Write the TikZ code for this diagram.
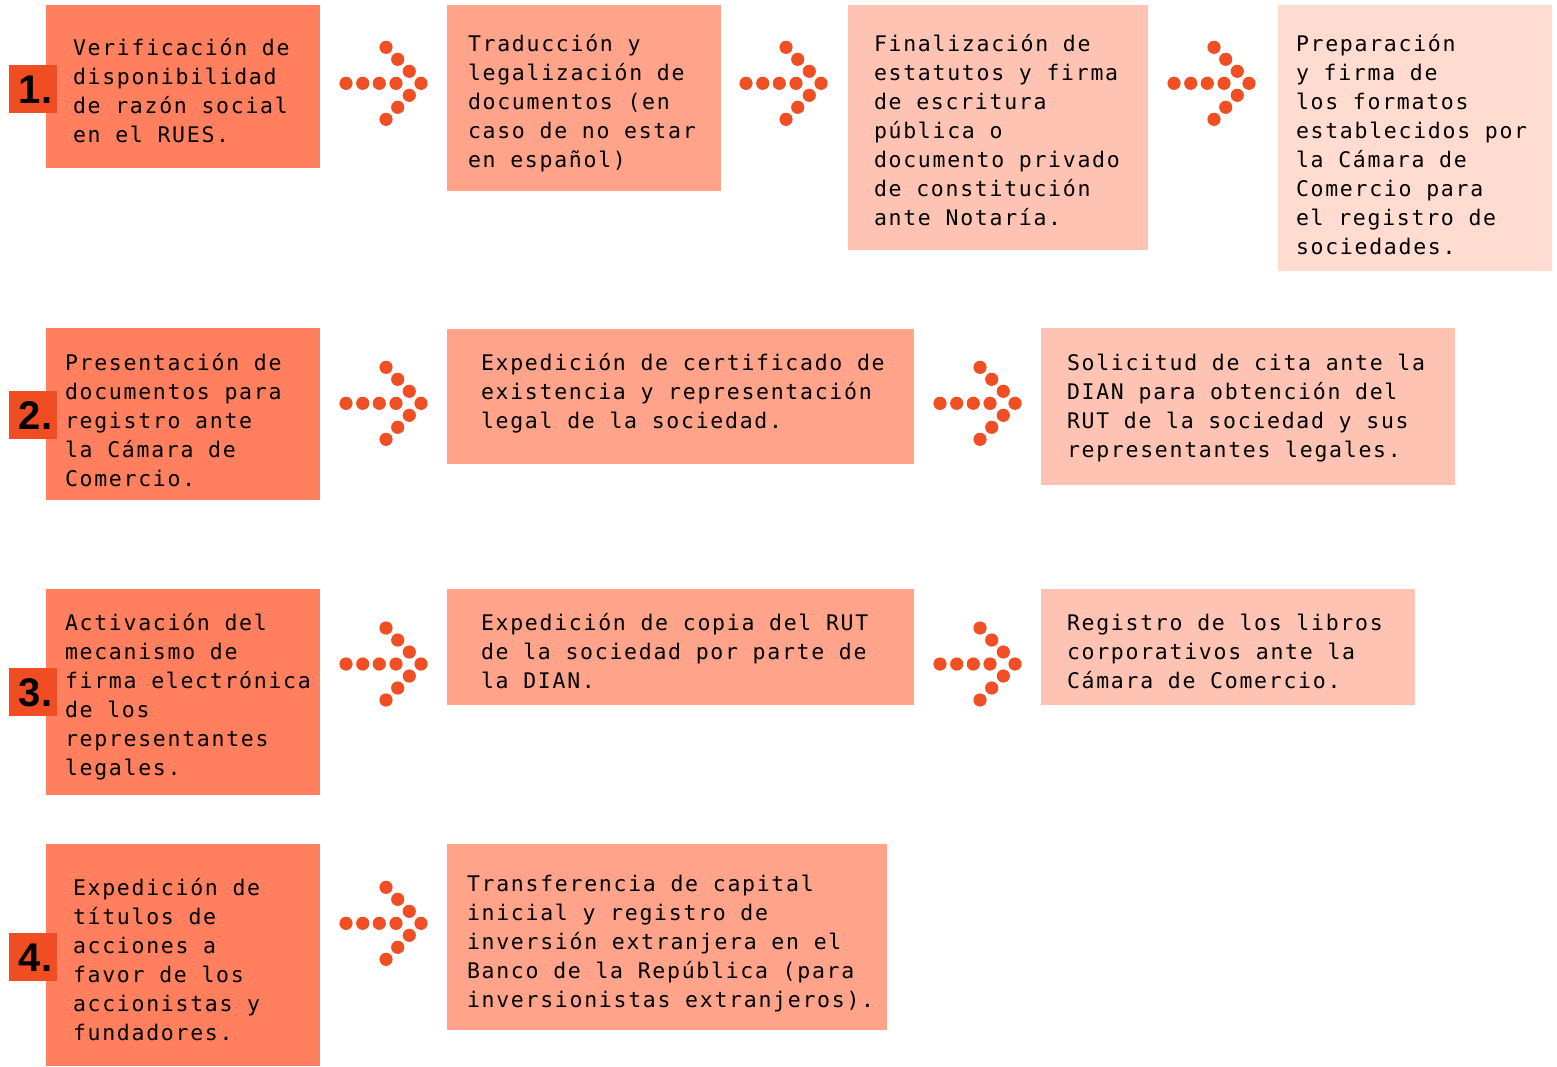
\documentclass[tikz,border=0pt]{standalone}
\usepackage{fontspec}
\newfontfamily\bodyfont{DejaVu Sans Mono}[LetterSpace=8]
\newfontfamily\numfont{Liberation Sans}
\definecolor{cA}{HTML}{FF7F5E}
\definecolor{cB}{HTML}{FFA38B}
\definecolor{cC}{HTML}{FFC3B4}
\definecolor{cD}{HTML}{FFDBD0}
\definecolor{badgec}{HTML}{F04E22}
\definecolor{dotc}{HTML}{F04E23}
\newcommand\tx[1]{\parbox[t]{520pt}{\bodyfont\fontsize{21.5pt}{29pt}\selectfont #1}}
\begin{document}
\begin{tikzpicture}[x=1pt,y=-1pt,
  box/.style={anchor=north west, inner sep=0pt, outer sep=0pt},
  txt/.style={anchor=base west, inner sep=0pt, outer sep=0pt},
  badge/.style={anchor=north west, fill=badgec, minimum width=48pt, minimum height=48pt, inner sep=0pt},
  num/.style={anchor=base, inner sep=0pt, font=\numfont\bfseries\fontsize{40pt}{40pt}\selectfont},
  dotarrow/.pic={
    \foreach \px in {0,16.7,33.3,50,75} \fill[dotc] (\px,0) circle (6.6pt);
    \foreach \px/\py in {40/-36,51.7/-24,63.3/-12,63.3/12,51.7/24,40/36} \fill[dotc] (\px,\py) circle (6.6pt);
  }]
\fill[white] (0,0) rectangle (1557,1066);
\useasboundingbox (0,0) rectangle (1557,1066);

% row 1
\node[box, fill=cA, minimum width=274pt, minimum height=163pt] (b11) at (46,5) {};
\node[box, fill=cB, minimum width=274pt, minimum height=186pt] (b12) at (447,5) {};
\node[box, fill=cC, minimum width=300pt, minimum height=245pt] (b13) at (848,5) {};
\node[box, fill=cD, minimum width=274pt, minimum height=266pt] (b14) at (1278,5) {};
\node[txt] (t11) at (73,55) {\tx{Verificación de\\disponibilidad\\de razón social\\en el RUES.}};
\node[txt] (t12) at (468,51) {\tx{Traducción y\\legalización de\\documentos (en\\caso de no estar\\en español)}};
\node[txt] (t13) at (874,51) {\tx{Finalización de\\estatutos y firma\\de escritura\\pública o\\documento privado\\de constitución\\ante Notaría.}};
\node[txt] (t14) at (1296,51) {\tx{Preparación\\y firma de\\los formatos\\establecidos por\\la Cámara de\\Comercio para\\el registro de\\sociedades.}};
\node[badge] (g1) at (9,65) {};
\node[num] (n1) at (35.5,103.5) {1.};
\pic (a11) at (346,83.3) {dotarrow};
\pic (a12) at (746,83.3) {dotarrow};
\pic (a13) at (1174,83.3) {dotarrow};

% row 2
\node[box, fill=cA, minimum width=274pt, minimum height=172pt] (b21) at (46,328) {};
\node[box, fill=cB, minimum width=467pt, minimum height=135pt] (b22) at (447,329) {};
\node[box, fill=cC, minimum width=414pt, minimum height=157pt] (b23) at (1041,328) {};
\node[txt] (t21) at (65,370) {\tx{Presentación de\\documentos para\\registro ante\\la Cámara de\\Comercio.}};
\node[txt] (t22) at (481,370) {\tx{Expedición de certificado de\\existencia y representación\\legal de la sociedad.}};
\node[txt] (t23) at (1067,370) {\tx{Solicitud de cita ante la\\DIAN para obtención del\\RUT de la sociedad y sus\\representantes legales.}};
\node[badge] (g2) at (9,391) {};
\node[num] (n2) at (35.5,429.5) {2.};
\pic (a21) at (346,403.3) {dotarrow};
\pic (a22) at (940,403.3) {dotarrow};

% row 3
\node[box, fill=cA, minimum width=274pt, minimum height=206pt] (b31) at (46,589) {};
\node[box, fill=cB, minimum width=467pt, minimum height=116pt] (b32) at (447,589) {};
\node[box, fill=cC, minimum width=374pt, minimum height=116pt] (b33) at (1041,589) {};
\node[txt] (t31) at (65,630) {\tx{Activación del\\mecanismo de\\firma electrónica\\de los\\representantes\\legales.}};
\node[txt] (t32) at (481,630) {\tx{Expedición de copia del RUT\\de la sociedad por parte de\\la DIAN.}};
\node[txt] (t33) at (1067,630) {\tx{Registro de los libros\\corporativos ante la\\Cámara de Comercio.}};
\node[badge] (g3) at (9,668) {};
\node[num] (n3) at (35.5,706.5) {3.};
\pic (a31) at (346,664) {dotarrow};
\pic (a32) at (940,664) {dotarrow};

% row 4
\node[box, fill=cA, minimum width=274pt, minimum height=222pt] (b41) at (46,844) {};
\node[box, fill=cB, minimum width=440pt, minimum height=186pt] (b42) at (447,844) {};
\node[txt] (t41) at (73,895) {\tx{Expedición de\\títulos de\\acciones a\\favor de los\\accionistas y\\fundadores.}};
\node[txt] (t42) at (467,891) {\tx{Transferencia de capital\\inicial y registro de\\inversión extranjera en el\\Banco de la República (para\\inversionistas extranjeros).}};
\node[badge] (g4) at (9,933) {};
\node[num] (n4) at (35.5,971.5) {4.};
\pic (a41) at (346,923.3) {dotarrow};
\end{tikzpicture}
\end{document}
